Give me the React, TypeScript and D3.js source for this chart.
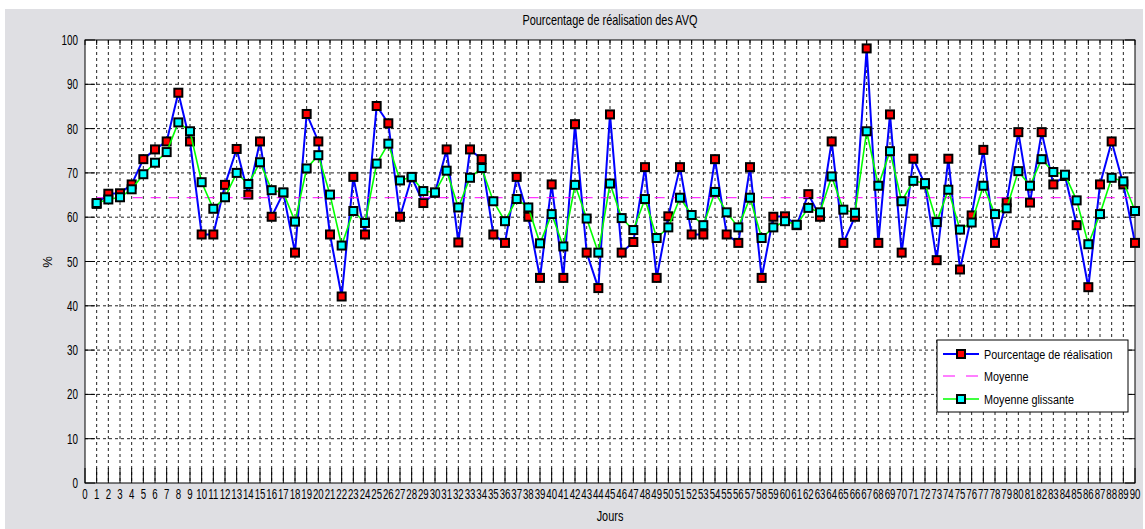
import React from "react";
import * as d3 from "d3";

// Pourcentage de réalisation (jours 1..90)
const realisation = [
  63, 65.3, 65.4, 67.4, 73.1, 75.3, 77.1, 88.1, 77.1, 56.1,
  56.1, 67.3, 75.4, 65.1, 77.1, 60.1, 65.5, 52.0, 83.3, 77.1,
  56.1, 42.1, 69.1, 56.1, 85.1, 81.2, 60.1, 69.0, 63.2, 65.5,
  75.3, 54.3, 75.3, 73.1, 56.1, 54.2, 69.1, 60.1, 46.3, 67.4,
  46.3, 81.0, 52.0, 44.0, 83.2, 52.0, 54.4, 71.3, 46.3, 60.2,
  71.3, 56.1, 56.1, 73.1, 56.1, 54.2, 71.3, 46.3, 60.1, 60.2,
  58.2, 65.2, 60.1, 77.1, 54.2, 60.1, 98.1, 54.2, 83.2, 52.0,
  73.2, 67.4, 50.3, 73.2, 48.2, 60.4, 75.2, 54.2, 63.4, 79.2,
  63.3, 79.2, 67.4, 69.3, 58.2, 44.2, 67.4, 77.1, 67.4, 54.2,
];

// Moyenne glissante (jours 1..90)
const glissante = [
  63.2, 64.0, 64.5, 66.3, 69.7, 72.3, 74.7, 81.4, 79.4, 67.9,
  61.9, 64.5, 70.0, 67.5, 72.4, 66.1, 65.6, 59.0, 71.0, 74.0,
  65.1, 53.6, 61.4, 58.7, 72.1, 76.6, 68.3, 69.1, 65.9, 65.6,
  70.5, 62.2, 68.9, 71.1, 63.6, 59.1, 64.1, 62.2, 54.1, 60.7,
  53.4, 67.3, 59.7, 52.0, 67.6, 59.8, 57.1, 64.1, 55.3, 57.7,
  64.4, 60.5, 58.2, 65.7, 61.1, 57.7, 64.4, 55.3, 57.7, 59.1,
  58.3, 62.1, 61.1, 69.2, 61.7, 61.0, 79.4, 67.1, 74.9, 63.6,
  68.2, 67.7, 58.9, 66.2, 57.2, 58.8, 67.1, 60.7, 62.0, 70.4,
  67.1, 73.1, 70.2, 69.6, 63.8, 53.9, 60.7, 68.9, 68.1, 61.4,
];

const moyenne = 64.4;

const xTicks = d3.range(0, 91);
const yTicks = [0, 10, 20, 30, 40, 50, 60, 70, 80, 90, 100];

const titre = "Pourcentage de réalisation des AVQ";
const legendLabels = ["Pourcentage de réalisation", "Moyenne", "Moyenne glissante"];

const FONT = "'Liberation Sans', Arial, Helvetica, sans-serif";

function NText(props: {
  x: number;
  y: number;
  size: number;
  sx: number;
  anchor?: "start" | "middle" | "end";
  children: React.ReactNode;
}) {
  const { x, y, size, sx, anchor = "start", children } = props;
  return (
    <text
      transform={`translate(${x},${y}) scale(${sx},1)`}
      fontSize={size}
      textAnchor={anchor}
      fill="#000"
    >
      {children}
    </text>
  );
}

export default function App() {
  const W = 1145;
  const H = 529;
  const left = 85, right = 1135, top = 40, bottom = 483;
  const x = d3.scaleLinear().domain([0, 90]).range([left, right]);
  const y = d3.scaleLinear().domain([0, 100]).range([bottom, top]);

  const lineGen = d3
    .line<number>()
    .x((_, i) => x(i + 1))
    .y((d) => y(d));

  const ms = 8;

  const lx0 = 943, lx1 = 979, lxm = 961, ltx = 984;
  const lrows = [354, 376, 399];

  return (
    <svg
      width={W}
      height={H}
      style={{ position: "absolute", left: 0, top: 0, display: "block" }}
      fontFamily={FONT}
    >
      <rect x={0} y={0} width={W} height={H} fill="#ffffff" />
      <rect x={5} y={9} width={1138} height={H - 9} fill="#dfdfe3" />
      <rect x={left} y={top} width={right - left} height={bottom - top} fill="#ffffff" />

      {/* grid */}
      {xTicks.filter((t) => t > 0 && t < 90).map((t) => (
        <line key={"gx" + t} x1={x(t)} x2={x(t)} y1={top} y2={bottom}
          stroke="#222" strokeWidth={1} strokeDasharray="3,3" />
      ))}
      {yTicks.filter((t) => t > 0 && t < 100).map((t) => (
        <line key={"gy" + t} x1={left} x2={right} y1={y(t)} y2={y(t)}
          stroke="#222" strokeWidth={1} strokeDasharray="3,3" />
      ))}

      {/* ticks */}
      {xTicks.map((t) => (
        <g key={"tx" + t}>
          <line x1={x(t)} x2={x(t)} y1={bottom} y2={bottom - 15} stroke="#000" strokeWidth={1} />
          <line x1={x(t)} x2={x(t)} y1={top} y2={top + 5} stroke="#000" strokeWidth={1} />
        </g>
      ))}
      {yTicks.map((t) => (
        <g key={"ty" + t}>
          <line x1={left} x2={left + 10} y1={y(t)} y2={y(t)} stroke="#000" strokeWidth={1} />
          <line x1={right} x2={right - 10} y1={y(t)} y2={y(t)} stroke="#000" strokeWidth={1} />
        </g>
      ))}

      {/* axes box */}
      <rect x={left} y={top} width={right - left} height={bottom - top} fill="none" stroke="#000" strokeWidth={1} />

      {/* tick labels */}
      {xTicks.map((t) => (
        <NText key={"lx" + t} x={x(t)} y={499} size={14} sx={0.69} anchor="middle">
          {t}
        </NText>
      ))}
      {yTicks.map((t) => (
        <NText key={"ly" + t} x={78} y={y(t) + 5} size={15} sx={0.66} anchor="end">
          {t}
        </NText>
      ))}

      {/* series: réalisation */}
      <path d={lineGen(realisation) || ""} fill="none" stroke="#0000ff" strokeWidth={2} />
      {realisation.map((v, i) => (
        <rect key={"r" + i} x={x(i + 1) - ms / 2} y={y(v) - ms / 2} width={ms} height={ms}
          fill="#ff0000" stroke="#000" strokeWidth={2} />
      ))}

      {/* moyenne */}
      <line x1={x(1)} x2={x(90)} y1={y(moyenne)} y2={y(moyenne)} stroke="#ff00ff" strokeWidth={1}
        strokeDasharray="10,8" />

      {/* moyenne glissante */}
      <path d={lineGen(glissante) || ""} fill="none" stroke="#00ff00" strokeWidth={1.6} />
      {glissante.map((v, i) => (
        <rect key={"g" + i} x={x(i + 1) - ms / 2} y={y(v) - ms / 2} width={ms} height={ms}
          fill="#00ffff" stroke="#000" strokeWidth={2} />
      ))}

      {/* title & axis labels */}
      <NText x={(left + right) / 2} y={25} size={14} sx={0.78} anchor="middle">{titre}</NText>
      <NText x={610} y={521} size={14} sx={0.78} anchor="middle">Jours</NText>
      <text transform={`translate(52,262) rotate(-90)`} fontSize={13} textAnchor="middle" fill="#000">%</text>

      {/* legend */}
      <rect x={937} y={340} width={191} height={72} fill="#ffffff" stroke="#000" strokeWidth={1} />
      <line x1={lx0} x2={lx1} y1={lrows[0]} y2={lrows[0]} stroke="#0000ff" strokeWidth={2} />
      <rect x={lxm - ms / 2} y={lrows[0] - ms / 2} width={ms} height={ms} fill="#ff0000" stroke="#000" strokeWidth={2} />
      <line x1={lx0} x2={lx1} y1={lrows[1]} y2={lrows[1]} stroke="#ff00ff" strokeWidth={1} strokeDasharray="12,11" />
      <line x1={lx0} x2={lx1} y1={lrows[2]} y2={lrows[2]} stroke="#00ff00" strokeWidth={1.6} />
      <rect x={lxm - ms / 2} y={lrows[2] - ms / 2} width={ms} height={ms} fill="#00ffff" stroke="#000" strokeWidth={2} />
      {legendLabels.map((l, i) => (
        <NText key={"leg" + i} x={ltx} y={lrows[i] + 5} size={13.5} sx={0.8}>{l}</NText>
      ))}
    </svg>
  );
}
